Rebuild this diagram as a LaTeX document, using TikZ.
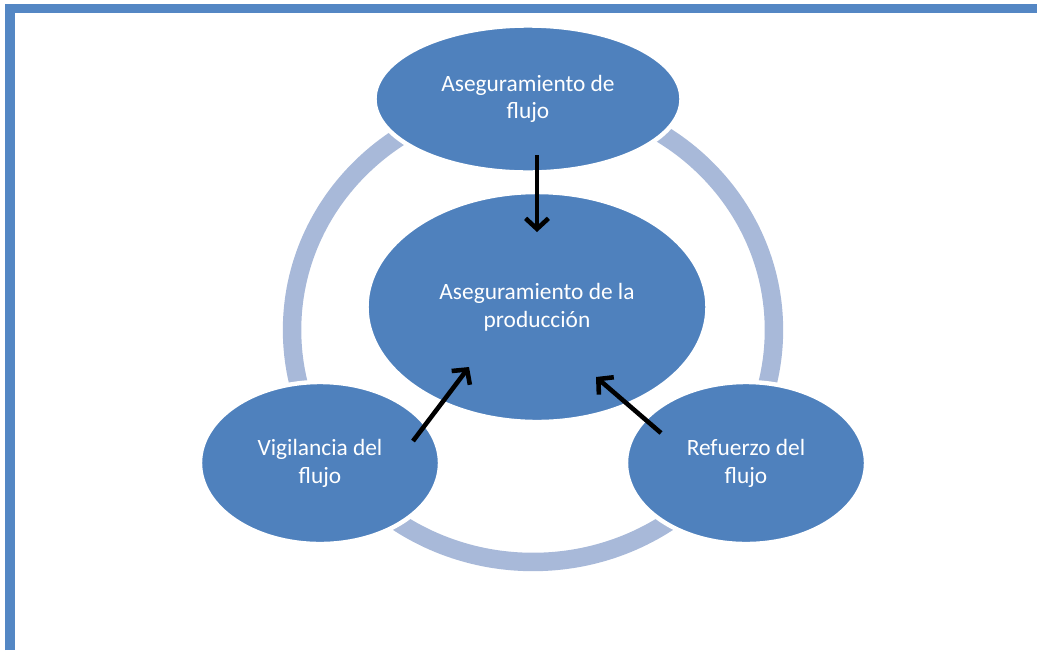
\documentclass[tikz,border=0pt]{standalone}
\usepackage{fontspec}
\setmainfont{Carlito}
\usetikzlibrary{arrows.meta,shapes.geometric}
\definecolor{azul}{RGB}{79,129,189}
\definecolor{anillo}{RGB}{168,185,217}
\definecolor{marco}{RGB}{84,135,196}
\begin{document}
\begin{tikzpicture}[x=0.02cm, y=-0.02cm,
		elipse/.style={ellipse, fill=azul, draw=white, line width=2.5pt, inner sep=0pt,
			text=white, align=center, font=\fontsize{13.3}{15.8}\selectfont},
		flecha/.style={line width=2.6pt, -{Straight Barb[length=6pt,width=13pt]}}]
		\useasboundingbox (0,0) rectangle (1037,650);
		%marco
		\draw[marco, line width=5.5pt] (10,650) -- (10,8.5) -- (1037,8.5);
		
		%anillo de fondo
		\draw[anillo, line width=10.5pt] (533,330) ellipse [x radius=4.82cm, y radius=4.64cm];
		
		%elipses
		\node[elipse, minimum width=6.14cm, minimum height=2.94cm] (flujo) at (528,99){Aseguramiento de\\flujo};
		\node[elipse, minimum width=6.82cm, minimum height=4.6cm] (produccion) at (537,307){Aseguramiento de la\\producción};
		\node[elipse, minimum width=4.8cm, minimum height=3.24cm] (vigilancia) at (320,463){Vigilancia del\\flujo};
		\node[elipse, minimum width=4.8cm, minimum height=3.24cm] (refuerzo) at (746,463){Refuerzo del\\flujo};
		
		%flechas
		\coordinate (s1) at (537,155);
		\coordinate (e1) at (537,232);
		\coordinate (s2) at (413,441);
		\coordinate (e2) at (469,367);
		\coordinate (s3) at (661,433);
		\coordinate (e3) at (596,377);
		\draw[flecha] (s1) -- (e1);
		\draw[flecha] (s2) -- (e2);
		\draw[flecha] (s3) -- (e3);
\end{tikzpicture}
\end{document}
